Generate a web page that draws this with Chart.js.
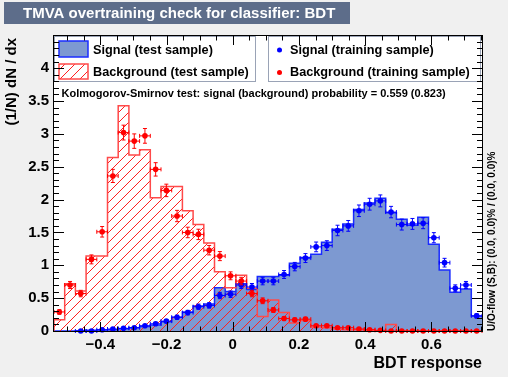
<!DOCTYPE html>
<html><head><meta charset="utf-8">
<script src="https://cdn.jsdelivr.net/npm/chart.js@4.4.0/dist/chart.umd.min.js"></script>
<style>html,body{margin:0;padding:0;background:#f0f0f0;}canvas{display:block;}</style>
</head><body>
<canvas id="c" width="508" height="377"></canvas>
<script>
// ---- data ----
const xMin = -0.54, xMax = 0.753, nBins = 40;
const sigTest = [0.0,0.0,0.005,0.01,0.015,0.02,0.035,0.05,0.07,0.09,0.14,0.21,0.29,0.38,0.41,0.66,0.60,0.72,0.63,0.83,0.83,0.85,1.03,1.12,1.17,1.35,1.55,1.63,1.85,1.95,2.02,1.80,1.70,1.61,1.73,1.32,0.93,0.59,0.64,0.23];
const bkgTest = [0.17,0.72,0.61,1.14,1.14,2.64,3.43,2.68,2.76,2.03,2.20,2.20,1.83,1.62,1.34,0.90,0.66,0.85,0.65,0.22,0.47,0.28,0.12,0.16,0.06,0.05,0.03,0.02,0.02,0.01,0.0,0.10,0.0,0.0,0.0,0.0,0.0,0.0,0.0,0.0];
const sigTrain = [null,null,0.0,0.0,0.02,0.03,0.04,0.05,0.08,0.11,0.15,0.21,0.28,0.37,0.39,0.54,0.56,0.70,0.67,0.76,0.76,0.86,0.98,1.11,1.28,1.30,1.53,1.60,1.83,1.93,1.98,1.81,1.62,1.63,1.64,1.42,1.04,0.65,0.70,0.23];
const sigTrainErr = [0,0,0,0,0.009,0.011,0.013,0.015,0.018,0.022,0.025,0.03,0.034,0.04,0.041,0.048,0.049,0.054,0.053,0.057,0.057,0.06,0.064,0.068,0.074,0.074,0.08,0.082,0.088,0.09,0.091,0.087,0.083,0.083,0.083,0.077,0.066,0.052,0.054,0.031];
const bkgTrain = [0.29,0.70,0.57,1.09,1.51,2.36,3.02,2.89,2.97,2.46,2.14,1.75,1.50,1.47,1.23,1.14,0.84,0.76,0.57,0.46,0.32,0.19,0.17,0.18,0.08,0.08,0.05,0.05,0.03,0.02,0.01,0.0,0.0,0.0,0.0,0.0,0.0,0.0,0.0,0.0];
const bkgTrainErr = [0.035,0.054,0.049,0.068,0.08,0.1,0.113,0.11,0.112,0.102,0.095,0.086,0.08,0.079,0.072,0.069,0.06,0.057,0.049,0.044,0.037,0.028,0.027,0.028,0.018,0.018,0.015,0.015,0.011,0.009,0.007,0,0,0,0,0,0,0,0,0];
const xTickValues = [-0.4,-0.2,0,0.2,0.4,0.6];
const yTickValues = [0,0.5,1,1.5,2,2.5,3,3.5,4];
const legendLeft = ['Signal (test sample)','Background (test sample)'];
const legendRight = ['Signal (training sample)','Background (training sample)'];
const titleText = 'TMVA overtraining check for classifier: BDT';
const ksText = 'Kolmogorov-Smirnov test: signal (background) probability = 0.559 (0.823)';
const xTitle = 'BDT response';
const yTitle = '(1/N) dN / dx';
const flowText = 'U/O-flow (S,B): (0.0, 0.0)% / (0.0, 0.0)%';

// ---- styling ----
const FONT = '"Liberation Sans", Arial, Helvetica, sans-serif';
const sigFill = '#7d99d1', sigLine = '#1a2cff', bkgLine = '#ff4a4a', hatchColor = '#ff2020';
const binW = (xMax - xMin) / nBins;
const edges = Array.from({length: nBins + 1}, (_, k) => xMin + k * binW);
const centers = edges.slice(0, nBins).map(e => e + binW / 2);

function histPoints(vals) {
  const pts = [{x: edges[0], y: 0}];
  vals.forEach((v, i) => pts.push({x: edges[i], y: v}));
  pts.push({x: edges[nBins], y: vals[nBins - 1]});
  pts.push({x: edges[nBins], y: 0});
  return pts;
}
function pointData(vals) {
  const pts = [];
  vals.forEach((v, i) => { if (v !== null) pts.push({x: centers[i], y: v}); });
  return pts;
}
// draw "/" hatching inside the current clip, over box [l,t,r,b]
function hatchLines(ctx, l, t, r, b) {
  const s = 10, H = b - t;
  ctx.strokeStyle = hatchColor; ctx.lineWidth = 1;
  ctx.beginPath();
  const start = Math.floor((l - H) / s) * s;
  for (let c = start; c <= r; c += s) {
    ctx.moveTo(c, b); ctx.lineTo(c + H, t);
  }
  ctx.stroke();
}

const canvas = document.getElementById('c');
const fmtX = v => Math.abs(v) < 1e-9 ? '0' : (v < 0 ? '\u2212' + (-v).toFixed(1) : v.toFixed(1));
const fmtY = v => Number.isInteger(v) ? String(v) : v.toFixed(1);

const hatchPlugin = {
  id: 'hatch',
  beforeDatasetDraw(chart, args) {
    const ds = chart.data.datasets[args.index];
    if (!ds.hatchSrc) return;
    const xs = chart.scales.x, ys = chart.scales.y, ctx = chart.ctx, ca = chart.chartArea;
    const vals = ds.hatchSrc;
    ctx.save();
    ctx.beginPath();
    const y0 = ys.getPixelForValue(0);
    ctx.moveTo(xs.getPixelForValue(edges[0]), y0);
    vals.forEach((v, i) => {
      const py = ys.getPixelForValue(v);
      ctx.lineTo(xs.getPixelForValue(edges[i]), py);
      ctx.lineTo(xs.getPixelForValue(edges[i + 1]), py);
    });
    ctx.lineTo(xs.getPixelForValue(edges[nBins]), y0);
    ctx.closePath();
    ctx.clip();
    hatchLines(ctx, ca.left, ca.top, ca.right, ca.bottom);
    ctx.restore();
  }
};

const errPlugin = {
  id: 'errbars',
  beforeDatasetDraw(chart, args) {
    const ds = chart.data.datasets[args.index];
    if (!ds.errSrc) return;
    const xs = chart.scales.x, ys = chart.scales.y, ctx = chart.ctx;
    ctx.save();
    ctx.strokeStyle = ds.pointBackgroundColor; ctx.lineWidth = 1;
    ds.errSrc.vals.forEach((v, i) => {
      if (v === null) return;
      const cx = xs.getPixelForValue(centers[i]), cy = ys.getPixelForValue(v);
      const x1 = xs.getPixelForValue(centers[i] - binW / 2), x2 = xs.getPixelForValue(centers[i] + binW / 2);
      const e = ds.errSrc.err[i];
      const y1 = ys.getPixelForValue(v + e), y2 = ys.getPixelForValue(Math.max(0, v - e));
      ctx.beginPath();
      ctx.moveTo(x1, cy); ctx.lineTo(x2, cy);
      ctx.moveTo(x1, cy - 2); ctx.lineTo(x1, cy + 2);
      ctx.moveTo(x2, cy - 2); ctx.lineTo(x2, cy + 2);
      if (e > 0) {
        ctx.moveTo(cx, y1); ctx.lineTo(cx, y2);
        ctx.moveTo(cx - 2, y1); ctx.lineTo(cx + 2, y1);
        ctx.moveTo(cx - 2, y2); ctx.lineTo(cx + 2, y2);
      }
      ctx.stroke();
    });
    ctx.restore();
  }
};

const decoPlugin = {
  id: 'deco',
  beforeDraw(chart) {
    const ctx = chart.ctx, ca = chart.chartArea;
    ctx.save();
    ctx.fillStyle = '#f0f0f0'; ctx.fillRect(0, 0, chart.width, chart.height);
    ctx.fillStyle = '#ffffff'; ctx.fillRect(ca.left, ca.top, ca.right - ca.left, ca.bottom - ca.top);
    ctx.restore();
  },
  afterDraw(chart) {
    const ctx = chart.ctx, ca = chart.chartArea, xs = chart.scales.x, ys = chart.scales.y;
    ctx.save();
    // legend boxes
    ctx.fillStyle = '#ffffff';
    ctx.strokeStyle = '#9aa3b6'; ctx.lineWidth = 1;
    ctx.fillRect(ca.left, ca.top, 201, 46); ctx.strokeRect(ca.left + 0.5, ca.top + 0.5, 201, 45);
    ctx.fillRect(268, ca.top, 213, 46); ctx.strokeRect(268.5, ca.top + 0.5, 212, 45);
    // left legend symbols
    ctx.fillStyle = sigFill; ctx.fillRect(59, 41, 29, 16);
    ctx.strokeStyle = sigLine; ctx.lineWidth = 1.5; ctx.strokeRect(59, 41, 29, 16);
    ctx.save(); ctx.beginPath(); ctx.rect(59, 64, 29, 15); ctx.clip();
    hatchLines(ctx, 59, 64, 88, 79); ctx.restore();
    ctx.strokeStyle = bkgLine; ctx.lineWidth = 1.5; ctx.strokeRect(59, 64, 29, 15);
    ctx.fillStyle = '#000'; ctx.font = 'bold 12.7px ' + FONT; ctx.textBaseline = 'middle'; ctx.textAlign = 'left';
    ctx.fillText(legendLeft[0], 93, 50);
    ctx.fillText(legendLeft[1], 93, 72.5);
    ctx.fillText(legendRight[0], 290, 50);
    ctx.fillText(legendRight[1], 290, 72.5);
    ctx.fillStyle = '#0000ff'; ctx.beginPath(); ctx.arc(279.5, 50, 2.5, 0, Math.PI * 2); ctx.fill();
    ctx.fillStyle = '#ff0000'; ctx.beginPath(); ctx.arc(279.5, 72.5, 2.5, 0, Math.PI * 2); ctx.fill();
    // KS text
    ctx.fillStyle = '#000'; ctx.font = 'bold 11px ' + FONT;
    ctx.fillText(ksText, 61.5, 93.5);
    // frame
    ctx.strokeStyle = '#000'; ctx.lineWidth = 1;
    ctx.strokeRect(ca.left - 0.5, ca.top - 0.5, ca.right - ca.left + 1, ca.bottom - ca.top + 1);
    // ticks
    ctx.beginPath();
    const xMajor = new Set(xTickValues.map(v => Math.round(v * 100)));
    for (let k = Math.ceil(xMin / 0.05); k * 0.05 <= xMax; k++) {
      const v = k * 0.05; const px = Math.round(xs.getPixelForValue(v)) + 0.5;
      const L = xMajor.has(Math.round(v * 100)) ? 9 : 4.5;
      ctx.moveTo(px, ca.bottom); ctx.lineTo(px, ca.bottom - L);
      ctx.moveTo(px, ca.top); ctx.lineTo(px, ca.top + L);
    }
    for (let k = 0; k * 0.1 <= ys.max; k++) {
      const v = k * 0.1; const py = Math.round(ys.getPixelForValue(v)) + 0.5;
      const L = (k % 5 === 0) ? 10 : 5;
      ctx.moveTo(ca.left, py); ctx.lineTo(ca.left + L, py);
      ctx.moveTo(ca.right, py); ctx.lineTo(ca.right - L, py);
    }
    ctx.stroke();
    // axis titles
    ctx.fillStyle = '#000';
    ctx.font = 'bold 16px ' + FONT; ctx.textAlign = 'right'; ctx.textBaseline = 'alphabetic';
    ctx.fillText(xTitle, 482, 368);
    ctx.save(); ctx.translate(12, 38); ctx.rotate(-Math.PI / 2);
    ctx.font = 'bold 15px ' + FONT; ctx.textAlign = 'right'; ctx.textBaseline = 'middle';
    ctx.fillText(yTitle, 0, 0); ctx.restore();
    ctx.save(); ctx.translate(492, 331); ctx.rotate(-Math.PI / 2);
    ctx.font = 'bold 10px ' + FONT; ctx.textAlign = 'left'; ctx.textBaseline = 'middle';
    ctx.fillText(flowText, 0, 0); ctx.restore();
    // title box
    ctx.fillStyle = '#5d6d8a'; ctx.fillRect(4, 2, 346, 22);
    ctx.fillStyle = '#ffffff'; ctx.font = 'bold 15px ' + FONT; ctx.textAlign = 'left'; ctx.textBaseline = 'middle';
    ctx.fillText(titleText, 23, 13.5);
    ctx.restore();
  }
};

new Chart(canvas, {
  type: 'line',
  data: {
    datasets: [
      {data: histPoints(sigTest), stepped: 'before', fill: 'origin', backgroundColor: sigFill, borderColor: sigLine, borderWidth: 1.5, pointRadius: 0, order: 4},
      {data: histPoints(bkgTest), stepped: 'before', fill: false, borderColor: bkgLine, borderWidth: 1.5, pointRadius: 0, order: 3, hatchSrc: bkgTest},
      {data: pointData(sigTrain), showLine: false, pointRadius: 2.8, pointBorderWidth: 0, pointBackgroundColor: '#0000ff', borderColor: '#0000ff', clip: false, order: 2, errSrc: {vals: sigTrain, err: sigTrainErr}},
      {data: pointData(bkgTrain), showLine: false, pointRadius: 2.8, pointBorderWidth: 0, pointBackgroundColor: '#ff0000', borderColor: '#ff0000', clip: false, order: 1, errSrc: {vals: bkgTrain, err: bkgTrainErr}}
    ]
  },
  options: {
    responsive: false, animation: false, devicePixelRatio: 1,
    layout: {padding: {top: 36, right: 26, left: 0, bottom: 0}},
    plugins: {legend: {display: false}, tooltip: {enabled: false}, title: {display: false}},
    scales: {
      x: {type: 'linear', min: xMin, max: xMax,
          afterFit: s => { s.height = 46; },
          afterBuildTicks: s => { s.ticks = xTickValues.map(v => ({value: v})); },
          grid: {display: false, drawTicks: false}, border: {display: false},
          ticks: {autoSkip: false, maxRotation: 0, padding: 5, color: '#000', font: {family: FONT, size: 15, weight: 'bold'}, callback: v => fmtX(v)}},
      y: {type: 'linear', min: 0, max: 4.49,
          afterFit: s => { s.width = 54; },
          afterBuildTicks: s => { s.ticks = yTickValues.map(v => ({value: v})); },
          grid: {display: false, drawTicks: false}, border: {display: false},
          ticks: {autoSkip: false, padding: 5, color: '#000', font: {family: FONT, size: 15, weight: 'bold'}, callback: v => fmtY(v)}}
    }
  },
  plugins: [hatchPlugin, errPlugin, decoPlugin]
});
</script>
</body></html>
